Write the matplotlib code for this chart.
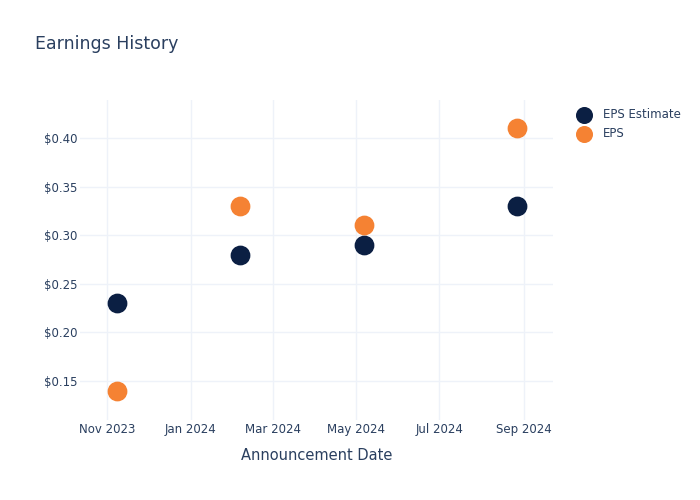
import matplotlib
matplotlib.use('Agg')
import matplotlib.pyplot as plt
import matplotlib.dates as mdates
from matplotlib.ticker import FuncFormatter
import pandas as pd

# data
dates = pd.to_datetime(['2023-11-08', '2024-02-06', '2024-05-07', '2024-08-27'])
eps_estimate = [0.23, 0.28, 0.29, 0.33]
eps_actual = [0.14, 0.33, 0.31, 0.41]

txt = '#2a3f5f'
grid = '#eef2f9'

fig = plt.figure(figsize=(7, 5), dpi=100)
ax = fig.add_axes([0.114, 0.16, 0.676, 0.64])

ax.scatter(dates, eps_estimate, s=175, color='#0b1f43', label='EPS Estimate', zorder=3)
ax.scatter(dates, eps_actual, s=175, color='#f58233', label='EPS', zorder=3)

ax.set_xlim(pd.Timestamp('2023-10-12'), pd.Timestamp('2024-09-22'))
ax.set_ylim(0.110, 0.439)

ax.xaxis.set_major_locator(mdates.MonthLocator(bymonth=[1, 3, 5, 7, 9, 11]))
ax.xaxis.set_major_formatter(mdates.DateFormatter('%b %Y'))
ax.set_yticks([0.15, 0.20, 0.25, 0.30, 0.35, 0.40])
ax.yaxis.set_major_formatter(FuncFormatter(lambda v, p: '$%.2f' % v))

ax.grid(True, color=grid, linewidth=1)
ax.set_axisbelow(True)
for s in ax.spines.values():
    s.set_visible(False)
ax.tick_params(length=0, labelsize=8.5, colors=txt)
ax.tick_params(axis='y', pad=2)
ax.tick_params(axis='x', pad=2)

ax.set_xlabel('Announcement Date', fontsize=10.5, color=txt, labelpad=9)
fig.text(0.05, 0.912, 'Earnings History', fontsize=12.5, color=txt, va='center')

leg = ax.legend(loc='upper left', bbox_to_anchor=(1.03, 0.99), frameon=False,
                fontsize=8.5, labelcolor=txt, handletextpad=0.6, borderaxespad=0,
                labelspacing=0.5, markerscale=0.85)

fig.savefig('out.png', dpi=100)
